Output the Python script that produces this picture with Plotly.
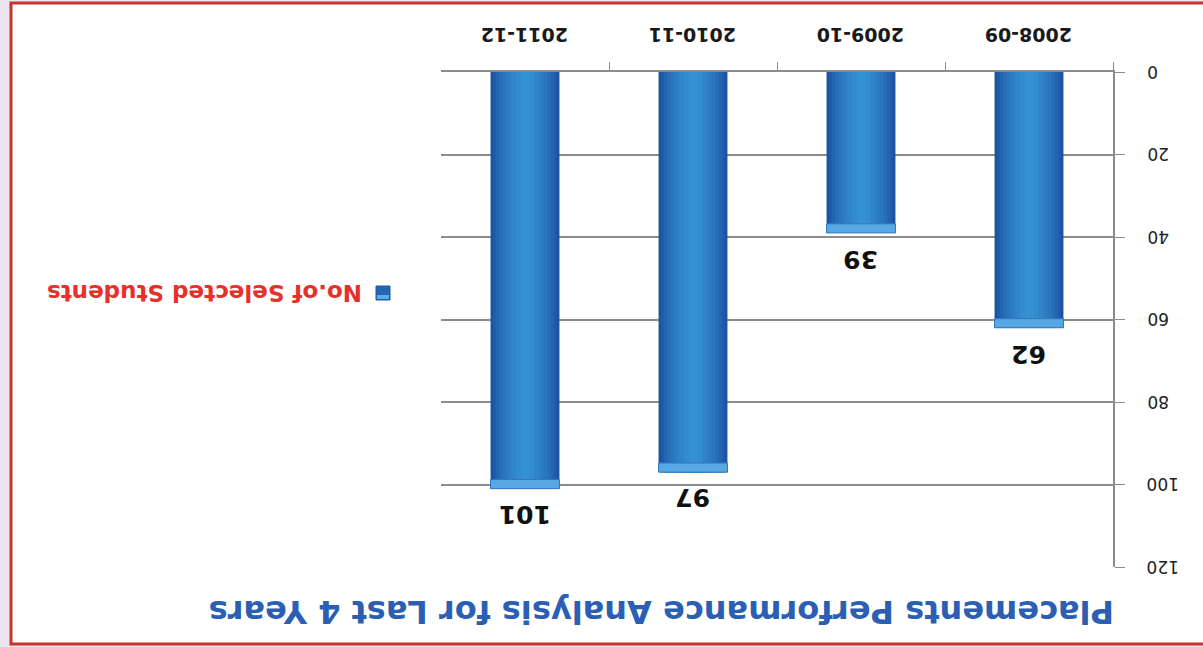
import plotly.graph_objects as go

years = ["2008-09", "2009-10", "2010-11", "2011-12"]
selected = [62, 39, 97, 101]
y_ticks = [0, 20, 40, 60, 80, 100, 120]
title_text = "Placements Performance Analysis for Last 4 Years"
legend_text = "No.of Selected Students"

W, H = 1203, 647
L, R, T, B = 441, 1113, 72, 567
pw, ph = R - L, B - T

def px(x):
    return (x - L) / pw

def py(y):
    return (B - y) / ph

fig = go.Figure()

# layered bars to mimic the gradient
layers = [(0.41, "#1c52a0"), (0.38, "#1f5ba8"), (0.35, "#2364af"), (0.31, "#276db7"),
          (0.27, "#2a75bd"), (0.22, "#2d7dc3"), (0.17, "#3085c9"), (0.11, "#338ccf"), (0.05, "#3591d2")]
for w, c in layers:
    fig.add_trace(go.Bar(x=years, y=selected, width=w, marker=dict(color=c, line=dict(width=0)),
                         showlegend=False, hoverinfo="skip"))
# lighter bevel at bar end
fig.add_trace(go.Bar(x=years, y=[2.2] * len(selected), base=[v - 2.2 for v in selected], width=0.41,
                     marker=dict(color="#56a9e2", line=dict(color="#2f78c0", width=1)),
                     showlegend=False, hoverinfo="skip"))

annotations = []
for yr, v in zip(years, selected):
    annotations.append(dict(x=yr, y=v, xref="x", yref="y", text=str(v), showarrow=False,
                            textangle=180, yshift=-26, xanchor="center", yanchor="middle",
                            font=dict(family="DejaVu Sans", size=25, color="#111111", weight="bold")))

for yr in years:
    annotations.append(dict(x=yr, y=py(35), xref="x", yref="paper", text=yr, showarrow=False,
                            textangle=180, xanchor="center", yanchor="middle",
                            font=dict(family="DejaVu Sans", size=19, color="#1a1a1a", weight="bold")))

for t in y_ticks:
    annotations.append(dict(x=px(1145), y=t, xref="paper", yref="y", text=str(t), showarrow=False,
                            textangle=180, xanchor="left", yanchor="middle",
                            font=dict(family="DejaVu Sans", size=17, color="#222222")))

annotations.append(dict(x=px(662), y=py(612), xref="paper", yref="paper", text=title_text,
                        showarrow=False, textangle=180, xanchor="center", yanchor="middle",
                        font=dict(family="DejaVu Sans", size=32, color="#2b5fb4", weight="bold")))
annotations.append(dict(x=px(364), y=py(293), xref="paper", yref="paper", text=legend_text,
                        showarrow=False, textangle=180, xanchor="right", yanchor="middle",
                        font=dict(family="DejaVu Sans", size=23, color="#e8302a", weight="bold")))

shapes = [
    dict(type="rect", xref="paper", yref="paper", x0=px(11), x1=px(1215), y0=py(644), y1=py(3),
         fillcolor="white", line=dict(color="#c8352c", width=3), layer="below"),
    dict(type="rect", xref="paper", yref="paper", x0=px(376), x1=px(390), y0=py(300), y1=py(286),
         fillcolor="#2466b2", line=dict(color="#1d56a3", width=1)),
    dict(type="rect", xref="paper", yref="paper", x0=px(377), x1=px(389), y0=py(299), y1=py(295),
         fillcolor="#5aaee6", line=dict(width=0)),
]

fig.update_layout(
    width=W, height=H,
    margin=dict(l=L, r=W - R, t=T, b=H - B, pad=0),
    paper_bgcolor="#ebe5f0",
    plot_bgcolor="rgba(0,0,0,0)",
    barmode="overlay",
    showlegend=False,
    annotations=annotations,
    shapes=shapes,
    xaxis=dict(type="category", autorange="reversed", side="top", showticklabels=False,
               showline=True, linecolor="#8c8c8c", linewidth=1.5, ticks="outside", ticklen=8,
               tickcolor="#8c8c8c", tickson="boundaries", showgrid=False),
    yaxis=dict(range=[120, 0], side="right", tickvals=y_ticks, showticklabels=False,
               showline=True, linecolor="#8c8c8c", linewidth=1.5, ticks="outside", ticklen=10,
               tickcolor="#8c8c8c", showgrid=True, gridcolor="#8c8c8c", gridwidth=1.5,
               zeroline=False),
)

fig.write_html("out.html", config={"displayModeBar": False},
               post_script="document.body.style.margin='0px';")
